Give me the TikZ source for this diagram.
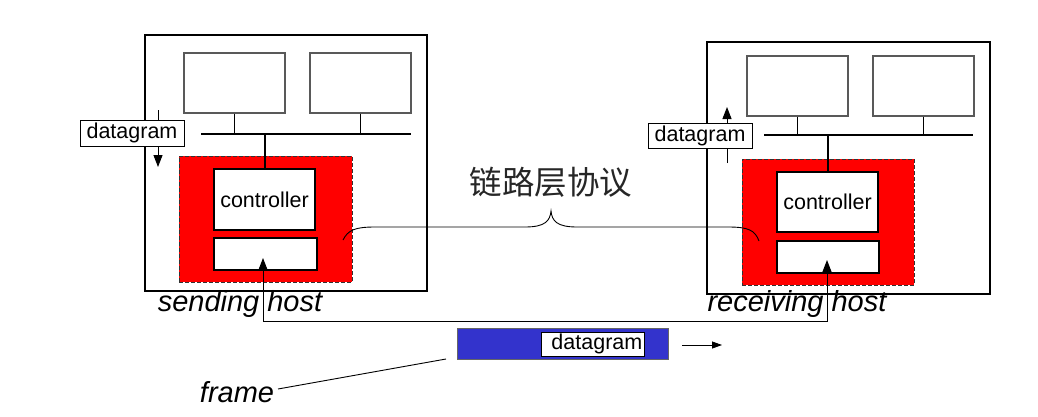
\documentclass[tikz,border=0pt]{standalone}
\usepackage{fontspec}
\setmainfont{Liberation Sans}
\newfontfamily\cjk{Noto Sans CJK SC}
\usetikzlibrary{fit,arrows.meta}
\definecolor{framebl}{HTML}{3333CC}
\begin{document}
\begin{tikzpicture}[x=1pt,y=-1pt,
 hostbox/.style={draw, line width=1.3pt, inner sep=0pt},
 monitor/.style={draw=black!65, line width=1.1pt, inner sep=0pt, fill=white},
 adapter/.style={draw=black!80, dash pattern=on 4pt off 2pt, line width=0.8pt, fill=red, inner sep=0pt},
 ctrl/.style={draw, line width=1.3pt, fill=white, inner sep=0pt},
 lbl/.style={draw, line width=1pt, fill=white, inner sep=0pt},
 txt/.style={font=\fontsize{21.5}{25}\selectfont, inner sep=0pt},
 bus/.style={line width=2pt},
 stand/.style={line width=1pt},
 hostcap/.style={font=\fontsize{29}{34}\selectfont\itshape, inner sep=0pt},
 arr/.style={-{Triangle[length=12pt,width=9pt]}, line width=1pt},
]
\useasboundingbox[fill=white] (0,0) rectangle (1038,416);

% ---------- sending host ----------
\node[hostbox, fit={(145,35) (427,291)}] (hs) {};
\node[monitor, fit={(184,53) (285,113)}] (sm1) {};
\node[monitor, fit={(310,53) (411,113)}] (sm2) {};
\coordinate (sbusL) at (201,134);
\coordinate (sbusR) at (411,134);
\draw[bus] (sbusL) -- (sbusR);
\draw[stand] (sm1.south) -- (sm1.south |- sbusL);
\draw[stand] (sm2.south) -- (sm2.south |- sbusL);
\node[adapter, fit={(179,156) (352,282)}] (sa) {};
\node[ctrl, fit={(214,169) (315,230)}] (sc) {};
\node[txt] (sct) at (sc.center) {controller};
\node[ctrl, fit={(214,238) (317,270)}] (sl) {};
\draw[bus] (sc.north) -- (sc.north |- sbusL);
\coordinate (sdt) at (158,110);
\coordinate (sdb) at (158,167);
\draw[arr] (sdt) -- (sdb);
\node[lbl, fit={(80,120) (184,146)}] (sdg) {};
\node[txt] (sdgt) at (sdg.center) {datagram};
\node[hostcap] (shc) at (240,304) {sending host};

% ---------- receiving host ----------
\node[hostbox, fit={(707,42) (990,294)}] (hr) {};
\node[monitor, fit={(747,56) (848,116)}] (rm1) {};
\node[monitor, fit={(873,56) (974,116)}] (rm2) {};
\coordinate (rbusL) at (764,135);
\coordinate (rbusR) at (973,135);
\draw[bus] (rbusL) -- (rbusR);
\draw[stand] (rm1.south) -- (rm1.south |- rbusL);
\draw[stand] (rm2.south) -- (rm2.south |- rbusL);
\node[adapter, fit={(742,159) (914,285)}] (ra) {};
\node[ctrl, fit={(777,172) (878,232)}] (rc) {};
\node[txt] (rct) at (rc.center) {controller};
\node[ctrl, fit={(777,241) (879,273)}] (rl) {};
\draw[bus] (rc.north) -- (rc.north |- rbusL);
\coordinate (rdb) at (727,163);
\coordinate (rdt) at (727,107);
\draw[arr] (rdb) -- (rdt);
\node[lbl, fit={(648,123) (752,148)}] (rdg) {};
\node[txt] (rdgt) at (rdg.center) {datagram};
\node[hostcap] (rhc) at (797,304) {receiving host};

% ---------- link between adapters ----------
\coordinate (stip) at (263,258);
\coordinate (rtip) at (827,260);
\coordinate (lowy) at (0,321);
\draw[{Triangle[length=12pt,width=9pt]}-{Triangle[length=12pt,width=9pt]}, line width=1pt]
  (stip) -- (stip |- lowy) -- (rtip |- lowy) -- (rtip);

% ---------- brace & protocol label ----------
\coordinate (bl) at (343,240);
\coordinate (bt) at (551,211);
\coordinate (br) at (759,241);
\draw[line width=0.9pt] (bl) .. controls (348,230) and (355,227) .. (375,227) -- (525,227)
  .. controls (545,227) and (550,221) .. (bt)
  .. controls (552,221) and (557,227) .. (577,227) -- (728,227)
  .. controls (748,227) and (755,230) .. (br);
\node[font=\cjk\fontsize{32.5}{38}\selectfont, text=black!85, inner sep=0pt] (proto) at (551,182) {链路层协议};

% ---------- frame ----------
\node[draw=black!60, line width=0.8pt, fill=framebl, inner sep=0pt, fit={(457,328) (668,359)}] (fr) {};
\node[lbl, fit={(541,332) (644,356)}] (fdg) {};
\node[txt, anchor=east] (fdgt) at ([xshift=-2pt]fdg.east) {datagram};
\coordinate (fa1) at (682,345);
\coordinate (fa2) at (722,345);
\draw[-{Triangle[length=10pt,width=7pt]}, line width=0.8pt] (fa1) -- (fa2);
\node[hostcap] (frl) at (237,392) {frame};
\coordinate (fls) at (278,389);
\coordinate (fle) at (446,359);
\draw[line width=0.9pt] (fls) -- (fle);
\end{tikzpicture}
\end{document}
